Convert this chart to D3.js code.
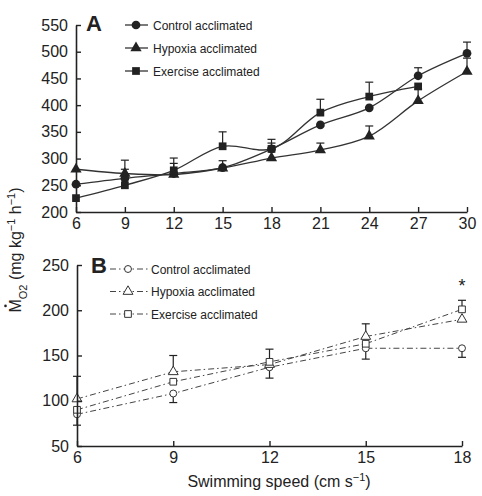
<!DOCTYPE html>
<html>
<head>
<meta charset="utf-8">
<script src="https://cdn.jsdelivr.net/npm/d3@7"></script>
<style>
  body { margin: 0; background: #fff; }
  svg { font-family: "Liberation Sans", Arial, sans-serif; }
</style>
</head>
<body>
<div id="chart"></div>
<script>
// Panel A data (speed in cm s-1, MO2 in mg kg-1 h-1)
const speedsA = [6, 9, 12, 15, 18, 21, 24, 27, 30];
const controlA = [252, 263, 272, 283, 318, 363, 395, 455, 497];
const controlA_se = [0, 17, 19, 13, 11, 0, 0, 15, 21];
const hypoxiaA = [280, 272, 270, 282, 301, 316, 342, 408, 463];
const hypoxiaA_se = [0, 25, 0, 0, 0, 13, 19, 22, 25];
const exerciseA = [226, 250, 278, 323, 318, 386, 416, 435];
const exerciseA_se = [0, 0, 23, 27, 18, 25, 27, 0];
const yTicksA = [200, 250, 300, 350, 400, 450, 500, 550];

// Panel B data
const speedsB = [6, 9, 12, 15, 18];
const controlB = [85, 108, 137, 158, 158];
const controlB_up = [0, 0, 0, 0, 0];
const controlB_down = [12, 10, 12, 12, 10];
const hypoxiaB = [102, 132, 140, 171, 190];
const hypoxiaB_up = [25, 18, 0, 14, 0];
const hypoxiaB_down = [0, 0, 0, 0, 0];
const exerciseB = [90, 121, 143, 163, 201];
const exerciseB_up = [0, 0, 14, 0, 10];
const exerciseB_down = [0, 0, 0, 0, 0];
const yTicksB = [50, 100, 150, 200, 250];

const legendNames = ["Control acclimated", "Hypoxia acclimated", "Exercise acclimated"];

const W = 482, H = 496;
const ink = "#222";

const svg = d3.select("#chart").append("svg")
    .attr("width", W)
    .attr("height", H);

function symbolFor(kind) {
    if (kind === "circle") return d3.symbol().type(d3.symbolCircle);
    if (kind === "triangle") return d3.symbol().type(d3.symbolTriangle);
    return d3.symbol().type(d3.symbolSquare);
}

function drawAxes(g, x, y, xTicks, yTicks) {
    const xAxis = g.append("g")
        .attr("transform", `translate(0,${y.range()[0]})`)
        .call(d3.axisBottom(x).tickValues(xTicks).tickSizeInner(-5).tickSizeOuter(0).tickPadding(6));
    const yAxis = g.append("g")
        .attr("transform", `translate(${x.range()[0]},0)`)
        .call(d3.axisLeft(y).tickValues(yTicks).tickSizeInner(-5).tickSizeOuter(0).tickPadding(8));
    [xAxis, yAxis].forEach(a => {
        a.select(".domain").attr("stroke", ink).attr("stroke-width", 1.6);
        a.selectAll(".tick line").attr("stroke", ink).attr("stroke-width", 1.4);
        a.selectAll("text").attr("font-size", 16).attr("fill", ink)
            .attr("font-family", "'Liberation Sans', Arial, sans-serif");
    });
}

function drawErrors(g, x, y, xs, vals, up, down, capW) {
    xs.forEach((s, i) => {
        if (i >= vals.length) return;
        const v = vals[i];
        [[up[i], 1], [down ? down[i] : 0, -1]].forEach(([e, dir]) => {
            if (!e) return;
            const yEnd = y(v + dir * e);
            g.append("line")
                .attr("x1", x(s)).attr("x2", x(s))
                .attr("y1", y(v)).attr("y2", yEnd)
                .attr("stroke", ink).attr("stroke-width", 1.2);
            g.append("line")
                .attr("x1", x(s) - capW).attr("x2", x(s) + capW)
                .attr("y1", yEnd).attr("y2", yEnd)
                .attr("stroke", ink).attr("stroke-width", 1.2);
        });
    });
}

// ---------------- Panel A ----------------
const xA = d3.scaleLinear().domain([6, 30]).range([76, 467]);
const yA = d3.scaleLinear().domain([200, 550]).range([212, 25]);
const gA = svg.append("g");

const seriesA = [
    { vals: controlA, se: controlA_se, kind: "circle", size: 60 },
    { vals: hypoxiaA, se: hypoxiaA_se, kind: "triangle", size: 55 },
    { vals: exerciseA, se: exerciseA_se, kind: "square", size: 60 }
];

const lineA = d3.line()
    .x(d => xA(d[0]))
    .y(d => yA(d[1]))
    .curve(d3.curveCatmullRom.alpha(0.5));

seriesA.forEach(s => {
    drawErrors(gA, xA, yA, speedsA, s.vals, s.se, null, 4);
    const pts = s.vals.map((v, i) => [speedsA[i], v]);
    gA.append("path")
        .datum(pts)
        .attr("fill", "none")
        .attr("stroke", "#333")
        .attr("stroke-width", 1.3)
        .attr("d", lineA);
});
seriesA.forEach(s => {
    gA.selectAll(null)
        .data(s.vals.map((v, i) => [speedsA[i], v]))
        .enter()
        .append("path")
        .attr("d", symbolFor(s.kind).size(s.size))
        .attr("transform", d => `translate(${xA(d[0])},${yA(d[1])})`)
        .attr("fill", "#222");
});

drawAxes(gA, xA, yA, speedsA, yTicksA);

gA.append("text")
    .attr("x", 86).attr("y", 31)
    .attr("font-size", 22).attr("font-weight", "bold")
    .attr("fill", ink)
    .text("A");

// Legend A
seriesA.forEach((s, i) => {
    const yy = 25 + i * 23;
    gA.append("line")
        .attr("x1", 125).attr("x2", 148)
        .attr("y1", yy).attr("y2", yy)
        .attr("stroke", "#333").attr("stroke-width", 1.3);
    gA.append("path")
        .attr("d", symbolFor(s.kind).size(s.size)())
        .attr("transform", `translate(136,${yy})`)
        .attr("fill", "#222");
    gA.append("text")
        .attr("x", 153).attr("y", yy + 4.5)
        .attr("font-size", 12).attr("fill", ink)
        .text(legendNames[i]);
});

// ---------------- Panel B ----------------
const xB = d3.scaleLinear().domain([6, 18]).range([77, 462]);
const yB = d3.scaleLinear().domain([50, 250]).range([446, 265]);
const gB = svg.append("g");

const seriesB = [
    { vals: controlB, up: controlB_up, down: controlB_down, kind: "circle", size: 38 },
    { vals: hypoxiaB, up: hypoxiaB_up, down: hypoxiaB_down, kind: "triangle", size: 42 },
    { vals: exerciseB, up: exerciseB_up, down: exerciseB_down, kind: "square", size: 45 }
];

const lineB = d3.line()
    .x(d => xB(d[0]))
    .y(d => yB(d[1]));

const dashB = "6,3,1.5,3";

seriesB.forEach(s => {
    drawErrors(gB, xB, yB, speedsB, s.vals, s.up, s.down, 4);
    gB.append("path")
        .datum(s.vals.map((v, i) => [speedsB[i], v]))
        .attr("fill", "none")
        .attr("stroke", "#444")
        .attr("stroke-width", 1)
        .attr("stroke-dasharray", dashB)
        .attr("d", lineB);
});
seriesB.forEach(s => {
    gB.selectAll(null)
        .data(s.vals.map((v, i) => [speedsB[i], v]))
        .enter()
        .append("path")
        .attr("d", symbolFor(s.kind).size(s.size))
        .attr("transform", d => `translate(${xB(d[0])},${yB(d[1])})`)
        .attr("fill", "#fff")
        .attr("stroke", "#333")
        .attr("stroke-width", 1);
});

drawAxes(gB, xB, yB, speedsB, yTicksB);

// significance marker at 18 cm s-1
gB.append("text")
    .attr("x", xB(18)).attr("y", yB(211) - 8)
    .attr("text-anchor", "middle")
    .attr("font-size", 18).attr("fill", ink)
    .text("*");

gB.append("text")
    .attr("x", 91).attr("y", 273)
    .attr("font-size", 22).attr("font-weight", "bold")
    .attr("fill", ink)
    .text("B");

// Legend B
seriesB.forEach((s, i) => {
    const yy = 269 + i * 22.5;
    gB.append("line")
        .attr("x1", 110).attr("x2", 148)
        .attr("y1", yy).attr("y2", yy)
        .attr("stroke", "#444").attr("stroke-width", 1)
        .attr("stroke-dasharray", dashB);
    gB.append("path")
        .attr("d", symbolFor(s.kind).size(s.size)())
        .attr("transform", `translate(128,${yy})`)
        .attr("fill", "#fff")
        .attr("stroke", "#333").attr("stroke-width", 1);
    gB.append("text")
        .attr("x", 151).attr("y", yy + 4.5)
        .attr("font-size", 12).attr("fill", ink)
        .text(legendNames[i]);
});

// ---------------- Axis titles ----------------
const xTitle = svg.append("text")
    .attr("x", 279).attr("y", 487)
    .attr("text-anchor", "middle")
    .attr("font-size", 16).attr("fill", ink);
xTitle.append("tspan").text("Swimming speed (cm s");
xTitle.append("tspan").attr("baseline-shift", "super").attr("font-size", 11).text("\u22121");
xTitle.append("tspan").text(")");

const yTitleG = svg.append("g")
    .attr("transform", "translate(21,250) rotate(-90)");
const yTitle = yTitleG.append("text")
    .attr("text-anchor", "middle")
    .attr("font-size", 16).attr("fill", ink);
yTitle.append("tspan").text("M");
yTitle.append("tspan").attr("baseline-shift", "sub").attr("font-size", 11).text("O2");
yTitle.append("tspan").text(" (mg kg");
yTitle.append("tspan").attr("baseline-shift", "super").attr("font-size", 11).text("\u22121");
yTitle.append("tspan").text(" h");
yTitle.append("tspan").attr("baseline-shift", "super").attr("font-size", 11).text("\u22121");
yTitle.append("tspan").text(")");

// overdot on the M (rate symbol)
const mBox = yTitle.node().getExtentOfChar(0);
yTitleG.append("circle")
    .attr("cx", mBox.x + mBox.width / 2)
    .attr("cy", -15.5)
    .attr("r", 1.3)
    .attr("fill", ink);
</script>
</body>
</html>
